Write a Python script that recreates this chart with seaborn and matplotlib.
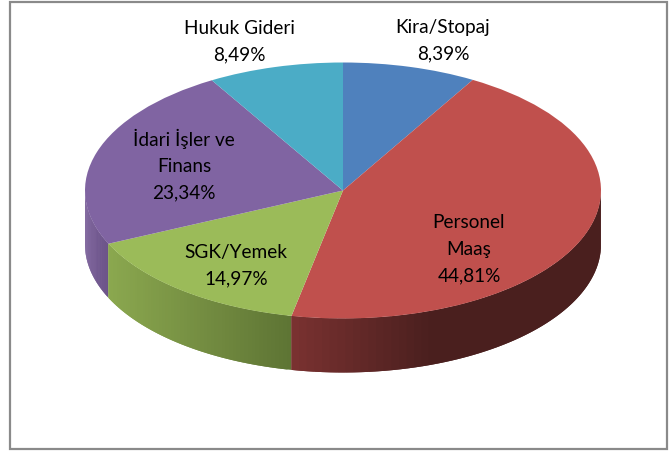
import numpy as np
import matplotlib
matplotlib.use('Agg')
import matplotlib.pyplot as plt
import seaborn as sns
from matplotlib.patches import Rectangle

labels = ['Kira/Stopaj', 'Personel\nMaaş', 'SGK/Yemek', 'İdari İşler ve\nFinans', 'Hukuk Gideri']
values = [8.39, 44.81, 14.97, 23.34, 8.49]
colors = ['#4F81BD', '#C0504D', '#9BBB59', '#8064A2', '#4BACC6']
label_xy = [(443, 41), (469, 249), (236, 266), (184, 165), (239, 42)]

W, H = 671, 452
CX, CY, RX, RY, DEPTH = 343, 191.5, 258, 128, 54

sns.set_theme(style='white')
plt.rcParams['font.family'] = ['Lato', 'DejaVu Sans']

fig = plt.figure(figsize=(W / 100, H / 100), dpi=100)
ax = fig.add_axes([0, 0, 1, 1])
ax.set_zorder(2)

# dis cerceve
fig.patches.append(Rectangle((10 / W, 1 - 450 / H), 657 / W, 447 / H, transform=fig.transFigure,
                             facecolor='white', edgecolor='#8A8A8A', linewidth=1.6, zorder=0))
ax.patch.set_visible(False)

# ust yuzey: daire, eksen olcegiyle elipse basiliyor
wedges, _ = ax.pie(values, colors=sns.color_palette(colors), startangle=90, counterclock=False,
                   radius=1, center=(0, 0), wedgeprops={'linewidth': 0, 'zorder': 3})
ax.set_aspect('auto')
ax.set_xlim(-CX / RX, (W - CX) / RX)
ax.set_ylim((CY - H) / RY, CY / RY)
ax.axis('off')

# yan yuzey: dilim sinirlari degerlerden geliyor, renk x boyunca degisiyor
side_shades = {1: ('#7A3230', '#4A1F1E', 0.45), 2: ('#8BA84F', '#5E7434', 1.0), 3: ('#7A5F9A', '#6C5488', 1.0)}
edges = np.cumsum([0] + values) / sum(values) * 360
depth = DEPTH / RY
for i, (c0, c1, span) in side_shades.items():
    a0, a1 = max(edges[i], 90), min(edges[i + 1], 270)
    steps = np.linspace(a0, a1, 60)
    rgb0, rgb1 = np.array(matplotlib.colors.to_rgb(c0)), np.array(matplotlib.colors.to_rgb(c1))
    x_all = np.sin(np.radians(steps))
    # gradyan dilimin sol ucundan saga dogru
    t = (x_all - x_all.min()) / (x_all.max() - x_all.min())
    t = np.clip(t / span, 0, 1)
    # her serit bir sonrakinin altina biner, boylece dikis izi kalmaz
    for k in range(len(steps) - 1):
        a = np.radians(steps[k:k + 3])
        col = rgb0 + (rgb1 - rgb0) * t[k:k + 2].mean()
        x = np.sin(a)
        y = np.cos(a)
        ax.fill(np.r_[x, x[::-1]], np.r_[y, y[::-1] - depth], color=col, linewidth=0, zorder=2 + k * 1e-4)

for name, val, (x, y) in zip(labels, values, label_xy):
    txt = f'{name}\n{val:.2f}%'.replace('.', ',')
    fig.text(x / W, 1 - y / H, txt, ha='center', va='center', fontsize=13.7,
             color='black', linespacing=1.68, zorder=5)

fig.savefig('out.png', dpi=100)
